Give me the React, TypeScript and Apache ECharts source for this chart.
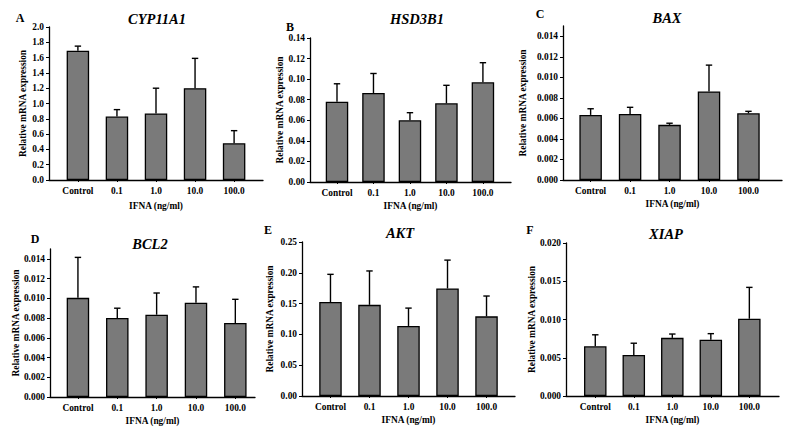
import React, { useEffect, useRef } from 'react';
import * as echarts from 'echarts';

// ---------- data ----------
const categories = ['Control', '0.1', '1.0', '10.0', '100.0'];

const cypMean = [1.69, 0.83, 0.87, 1.2, 0.48];
const cypSD = [0.06, 0.09, 0.33, 0.39, 0.165];
const cypTicks = [0, 0.2, 0.4, 0.6, 0.8, 1.0, 1.2, 1.4, 1.6, 1.8, 2.0];

const hsdMean = [0.078, 0.0865, 0.06, 0.0765, 0.097];
const hsdSD = [0.0175, 0.019, 0.0074, 0.0175, 0.019];
const hsdTicks = [0, 0.02, 0.04, 0.06, 0.08, 0.1, 0.12, 0.14];

const baxMean = [0.00634, 0.00643, 0.00537, 0.00863, 0.0065];
const baxSD = [0.0006, 0.00065, 0.00016, 0.00256, 0.00019];
const baxTicks = [0, 0.002, 0.004, 0.006, 0.008, 0.01, 0.012, 0.014];

const bcl2Mean = [0.01005, 0.008, 0.00834, 0.00956, 0.0075];
const bcl2SD = [0.0041, 0.001, 0.0022, 0.0016, 0.0024];
const bcl2Ticks = [0, 0.002, 0.004, 0.006, 0.008, 0.01, 0.012, 0.014];

const aktMean = [0.1525, 0.148, 0.1137, 0.1746, 0.1293];
const aktSD = [0.045, 0.055, 0.029, 0.046, 0.033];
const aktTicks = [0, 0.05, 0.1, 0.15, 0.2, 0.25];

const xiapMean = [0.0065, 0.00535, 0.0076, 0.00735, 0.0101];
const xiapSD = [0.0015, 0.00155, 0.0005, 0.0008, 0.0041];
const xiapTicks = [0, 0.005, 0.01, 0.015, 0.02];

const xName = 'IFNA (ng/ml)';
const yName = 'Relative mRNA expression';

// ---------- layout ----------
const panels = [
  { letter: 'A', gene: 'CYP11A1', mean: cypMean, sd: cypSD, ticks: cypTicks, dec: 1, yMax: 2.0,
    left: 49, right: 263, top: 27, bottom: 180, xMin: -0.74, xMax: 4.74, yGap: 22, xGap: 21,
    titleX: 157, titleY: 19, letterX: 20, letterY: 18 },
  { letter: 'B', gene: 'HSD3B1', mean: hsdMean, sd: hsdSD, ticks: hsdTicks, dec: 2, yMax: 0.14,
    left: 310, right: 511, top: 38, bottom: 182, xMin: -0.74, xMax: 4.77, yGap: 24, xGap: 19,
    titleX: 417, titleY: 19, letterX: 290, letterY: 26.5 },
  { letter: 'C', gene: 'BAX', mean: baxMean, sd: baxSD, ticks: baxTicks, dec: 3, yMax: 0.015,
    left: 563, right: 782, top: 26, bottom: 180, xMin: -0.7, xMax: 4.85, yGap: 36, xGap: 19,
    titleX: 667, titleY: 17.5, letterX: 540, letterY: 14 },
  { letter: 'D', gene: 'BCL2', mean: bcl2Mean, sd: bcl2SD, ticks: bcl2Ticks, dec: 3, yMax: 0.015,
    left: 50, right: 255, top: 249, bottom: 397, xMin: -0.71, xMax: 4.5, yGap: 29, xGap: 19,
    titleX: 150, titleY: 243.5, letterX: 35, letterY: 239 },
  { letter: 'E', gene: 'AKT', mean: aktMean, sd: aktSD, ticks: aktTicks, dec: 2, yMax: 0.25,
    left: 302, right: 515, top: 242, bottom: 396, xMin: -0.73, xMax: 4.73, yGap: 28, xGap: 19,
    titleX: 400, titleY: 232.5, letterX: 268, letterY: 229.5 },
  { letter: 'F', gene: 'XIAP', mean: xiapMean, sd: xiapSD, ticks: xiapTicks, dec: 3, yMax: 0.02,
    left: 566, right: 779, top: 243, bottom: 396, xMin: -0.76, xMax: 4.77, yGap: 30, xGap: 19,
    titleX: 666, titleY: 233.5, letterX: 530, letterY: 229.5 },
];

const FONT = '"Liberation Serif", "Times New Roman", serif';
const BAR_COLOR = '#7a7a7a';
const catIdx = categories.map((_, i) => i);

function buildOption() {
  const grid: any[] = [];
  const xAxis: any[] = [];
  const yAxis: any[] = [];
  const series: any[] = [];
  const graphic: any[] = [];
  const labelStyle = { fontFamily: FONT, fontWeight: 'bold', fontSize: 9.4, color: '#000' };

  panels.forEach((p, i) => {
    grid.push({ left: p.left, top: p.top, width: p.right - p.left, height: p.bottom - p.top, containLabel: false });
    xAxis.push({
      type: 'value', gridIndex: i, min: p.xMin, max: p.xMax,
      axisLine: { show: true, onZero: false, lineStyle: { color: '#000', width: 1.3 } },
      axisTick: { show: true, customValues: catIdx, length: 2, lineStyle: { color: '#000', width: 1 } },
      axisLabel: { ...labelStyle, customValues: catIdx, margin: 6,
        formatter: (v: number) => categories[Math.round(v)] ?? '' },
      splitLine: { show: false },
      name: xName, nameLocation: 'middle', nameGap: p.xGap,
      nameTextStyle: { ...labelStyle },
    });
    yAxis.push({
      type: 'value', gridIndex: i, min: 0, max: p.yMax,
      axisLine: { show: true, onZero: false, lineStyle: { color: '#000', width: 1.3 } },
      axisTick: { show: true, customValues: p.ticks, length: 3, lineStyle: { color: '#000', width: 1 } },
      axisLabel: { ...labelStyle, customValues: p.ticks, margin: 5,
        formatter: (v: number) => v.toFixed(p.dec) },
      splitLine: { show: false },
      name: yName, nameLocation: 'middle', nameGap: p.yGap, nameRotate: 90,
      nameTextStyle: { ...labelStyle },
    });
    series.push({
      type: 'bar', xAxisIndex: i, yAxisIndex: i, barWidth: 22.5,
      data: p.mean.map((m, k) => [k, m]),
      itemStyle: { color: BAR_COLOR, borderColor: '#000', borderWidth: 1.3 },
      z: 2,
    });
    series.push({
      type: 'custom', xAxisIndex: i, yAxisIndex: i, z: 3,
      data: p.mean.map((m, k) => [k, m, p.sd[k]]),
      encode: { x: 0, y: 1 },
      renderItem: (params: any, api: any) => {
        const x = api.value(0);
        const m = api.value(1);
        const s = api.value(2);
        const p0 = api.coord([x, m]);
        const p1 = api.coord([x, m + s]);
        const st = { stroke: '#000', lineWidth: 1.4 };
        return {
          type: 'group',
          children: [
            { type: 'line', shape: { x1: p0[0], y1: p0[1], x2: p1[0], y2: p1[1] }, style: st },
            { type: 'line', shape: { x1: p1[0] - 3.2, y1: p1[1], x2: p1[0] + 3.2, y2: p1[1] }, style: st },
          ],
        };
      },
    });
    graphic.push({
      type: 'text', x: p.titleX, y: p.titleY,
      style: { text: p.gene, fill: '#000', font: `italic bold 14.5px ${FONT}`, textAlign: 'center', textVerticalAlign: 'middle' },
    });
    graphic.push({
      type: 'text', x: p.letterX, y: p.letterY,
      style: { text: p.letter, fill: '#000', font: `bold 12px ${FONT}`, textAlign: 'center', textVerticalAlign: 'middle' },
    });
  });

  return { animation: false, backgroundColor: '#ffffff', grid, xAxis, yAxis, series, graphic };
}

export default function App() {
  const ref = useRef<HTMLDivElement>(null);
  useEffect(() => {
    if (!ref.current) return;
    const chart = echarts.init(ref.current, undefined, { renderer: 'svg' });
    chart.setOption(buildOption() as any);
    return () => chart.dispose();
  }, []);
  return (
    <div
      ref={ref}
      style={{ position: 'fixed', left: 0, top: 0, width: 787, height: 433, background: '#fff' }}
    />
  );
}
